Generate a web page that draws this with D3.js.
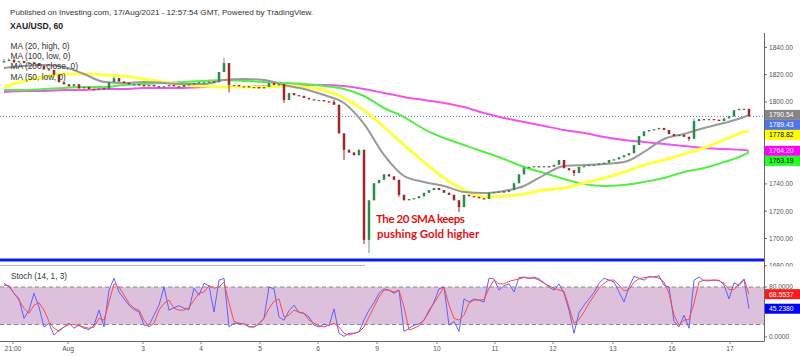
<!DOCTYPE html>
<html><head><meta charset="utf-8">
<script src="https://cdn.jsdelivr.net/npm/d3@7"></script>
<style>
body{margin:0;background:#fff;}
svg{display:block;font-family:"Liberation Sans",Arial,sans-serif;}
</style>
</head><body>
<svg id="c" width="800" height="356"></svg>
<script>
// ---------- DATA ----------
const firstOpen = 1829;
const closes = [
1830,1831,1829,1830,1828.5,1829,1828,1826.5,1824,1823.5,
1820,1814.5,1813,1811.5,1813,1810,1811,1809.5,1809,1810,
1809.5,1814.5,1817.5,1815,1814,1813,1813,1812.5,1811.5,1812.5,
1811.5,1811,1811.5,1812.5,1811.5,1811,1812.5,1813,1814,1814.5,
1814.5,1815,1814.5,1822,1828.5,1812.5,1812.5,1811.5,1811.5,1811,
1811,1810,1811,1814,1812.5,1813,1801.5,1806.5,1805,1804.5,
1803,1802,1801.5,1801.5,1800.5,1800,1798,1777,1765,1763,
1761,1765,1699,1728,1740.5,1743,1747,1745.5,1743,1732,
1728,1729,1729.5,1731,1733.5,1735.5,1737,1735.5,1733.5,1732,
1728,1723,1732,1731,1730.5,1729.5,1729,1733.5,1734,1734.5,
1734,1735.5,1740.5,1747,1751.5,1752.5,1753,1752.5,1753,1752.5,
1754,1757.5,1751.5,1750,1748,1752.5,1753,1754,1754,1755,
1755.5,1757.5,1758,1759.5,1761,1762.5,1768.5,1775,1778.5,1779.5,
1780,1781,1779.5,1776.5,1775,1776,1774.5,1773,1786,1787.5,
1787,1787.5,1787,1786,1788,1789.5,1794,1795,1795,1789.43
];
const wickHighs = [[44,1832.3],[66,1801.5],[22,1818.5],[104,1753.5],[138,1788],[0,1831.5],[1,1832]];
const wickLows  = [[45,1807],[56,1799.3],[68,1757.5],[73,1689.4],[72,1696],[91,1719.4],[114,1745.8],[137,1771.5],[79,1730.5]];

const ma20 = [1824.9,1826.4,1827.1,1825.6,1820.5,1814.7,1813.9,1814.7,1813.9,1813.2,1813.2,1816.1,1816.8,1816.1,1812.5,1809.5,1805.1,1799.3,1783.9,1761.2,1745.8,1741.4,1738.5,1734.1,1733.3,1734.8,1738.5,1746.5,1753.1,1753.8,1754.6,1756.0,1763.4,1772.9,1776.6,1781.0,1784.6,1789.0,1790.54];
const ma50 = [1811.0,1815.4,1818.3,1820.5,1820.5,1819.8,1819.0,1816.8,1814.7,1812.5,1811.7,1811.0,1811.0,1811.0,1811.7,1811.0,1808.8,1802.9,1794.1,1781.7,1768.5,1756.0,1744.3,1735.5,1730.4,1731.1,1732.6,1735.5,1737.0,1740.7,1744.3,1748.7,1753.8,1757.5,1761.9,1766.3,1772.2,1778.0,1778.82];
const ma100 = [1808.8,1808.8,1809.5,1810.3,1811.0,1811.0,1812.5,1813.2,1813.9,1814.7,1815.4,1816.1,1815.4,1814.7,1813.9,1813.2,1811.7,1809.5,1804.4,1795.6,1789.0,1780.2,1773.6,1768.5,1763.4,1758.2,1752.4,1748.0,1743.6,1739.9,1738.5,1739.2,1741.4,1744.3,1748.7,1751.6,1756.0,1761.2,1763.19];
const ma200 = [1807.3,1808.1,1808.1,1808.8,1808.8,1809.5,1809.5,1810.3,1810.3,1810.3,1811.0,1811.0,1811.0,1811.7,1811.7,1812.5,1812.5,1811.7,1809.5,1806.6,1803.7,1801.5,1799.3,1796.3,1791.9,1788.3,1785.3,1782.4,1779.5,1777.3,1774.4,1772.2,1770.7,1769.2,1767.8,1766.3,1765.6,1764.8,1764.20];
const lastPrice = 1789.43;
const hLineLevel = 1684.3;

const stochK = [
83,82,70,61,30,43,70,48,16,22,
3,11,16,22,14,19,14,12,19,43,
16,75,94,72,61,51,44,40,19,19,
35,51,80,43,47,50,46,44,78,67,
86,82,40,91,94,16,22,22,21,16,
16,21,30,80,77,32,27,42,51,39,
38,32,19,16,21,18,45,6,1,6,
6,8,27,43,55,70,77,75,70,75,
9,14,19,21,27,40,56,77,80,19,
25,9,61,56,61,59,56,94,93,75,
82,85,72,95,96,94,96,93,87,80,
75,85,70,43,6,39,51,61,71,86,
94,91,88,72,56,80,97,94,91,97,
96,98,83,80,25,16,35,14,91,96,
90,90,91,91,83,61,87,82,92,45.238
];
const stochD = [
86,80.5,70,59,46,38,51,55,43,25,
14,9,16,20,20,18,16,14,16,30,
27,56,85,80,67,54,46,43,27,16,
22,43,54,59,46,43,43,47,59,70,
72,82,78,80,88,54,25,22,21,17,
16,21,30,46,57,61,32,35,43,40,
38,27,22,18,16,19,22,16,6,3,
6,8,16,32,48,64,75,75,72,75,
48,11,14,18,27,43,54,67,80,51,
30,27,35,54,59,59,60,78,91,85,
85,89,91,93,95,94,94,91,86,82,
78,75,73,48,22,28,40,54,66,78,
86,91,91,83,74,76,88,93,95,96,
96,94,88,70,35,19,27,28,54,88,
91,91,91,90,86,76,76,85,93,68.5537
];

const priceTicks = [1680,1700,1720,1740,1760,1780,1800,1820,1840];
const stochTicks = [0,80];
const timeTickPos = [1.8,12.8,27.8,39.4,51.2,62.8,74.6,86.6,98.2,109.8,121.8,133.6,145.2];
const timeTickLabels = ["21:00","Aug","3","4","5","6","9","10","11","12","13","16","17"];

const legendLabels = ["MA (20, high, 0)","MA (100, low, 0)","MA (200, close, 0)","MA (50, low, 0)"];

// ---------- DRAW ----------
const svg = d3.select("#c");
const plotR = 764;
const x = d3.scaleLinear().domain([0, closes.length-1]).range([4, 749]);
const y = d3.scaleLinear().domain([1680,1840]).range([265.8,47.4]);
const ys = d3.scaleLinear().domain([0,100]).range([337,274.5]);
const maIndex = d3.range(0, closes.length-1, 4).concat([closes.length-1]);

const defs = svg.append("defs");
defs.append("clipPath").attr("id","cm").append("rect").attr("x",0).attr("y",30).attr("width",plotR).attr("height",236);
defs.append("clipPath").attr("id","cs").append("rect").attr("x",0).attr("y",267).attr("width",plotR).attr("height",74);
defs.append("clipPath").attr("id","ca").append("rect").attr("x",plotR).attr("y",30).attr("width",40).attr("height",236.5);

// header
svg.append("text").attr("x",10).attr("y",14.5).attr("font-size",8.1).attr("fill","#333")
  .text("Published on Investing.com, 17/Aug/2021 - 12:57:54 GMT, Powered by TradingView.");
svg.append("text").attr("x",10).attr("y",28.5).attr("font-size",8.6).attr("font-weight","bold").attr("fill","#222")
  .text("XAU/USD, 60");

const gm = svg.append("g").attr("clip-path","url(#cm)");

// blue dotted last-price line
gm.append("line").attr("x1",0).attr("x2",plotR).attr("y1",y(lastPrice)).attr("y2",y(lastPrice))
  .attr("stroke","#5b7fe6").attr("stroke-width",1).attr("stroke-dasharray","1,2");

// MAs
const maLine = d3.line().x((d,i)=>x(maIndex[i])).y(d=>y(d)).curve(d3.curveMonotoneX);
const mas = [
  {data:ma200, color:"#ee55ee", w:2},
  {data:ma100, color:"#55ee44", w:2},
  {data:ma50,  color:"#ffff44", w:3},
  {data:ma20,  color:"#999999", w:2}
];
mas.forEach(m=>{
  gm.append("path").datum(m.data).attr("d",maLine).attr("fill","none")
    .attr("stroke",m.color).attr("stroke-width",m.w).attr("stroke-linejoin","round");
});

// candles
const wh = new Map(wickHighs), wl = new Map(wickLows);
const candles = closes.map((c,i)=>{
  const o = i===0 ? firstOpen : closes[i-1];
  const hi = wh.has(i) ? wh.get(i) : Math.max(o,c);
  const lo = wl.has(i) ? wl.get(i) : Math.min(o,c);
  return {i,o,c,hi,lo};
});
const up = "#2f8a4a", dn = "#a32626";
const cg = gm.append("g");
cg.selectAll("line.w").data(candles).join("line")
  .attr("x1",d=>x(d.i)).attr("x2",d=>x(d.i))
  .attr("y1",d=>y(d.hi)).attr("y2",d=>y(d.lo))
  .attr("stroke",d=>d.c>=d.o?"#6a9a7a":dn).attr("stroke-width",1);
cg.selectAll("rect").data(candles).join("rect")
  .attr("x",d=>x(d.i)-1.25).attr("width",2.5)
  .attr("y",d=>y(Math.max(d.o,d.c)))
  .attr("height",d=>Math.max(1.2, Math.abs(y(d.o)-y(d.c))))
  .attr("fill",d=>d.c>=d.o?up:dn);

// horizontal blue level line
svg.append("line").attr("x1",0).attr("x2",plotR).attr("y1",y(hLineLevel)).attr("y2",y(hLineLevel))
  .attr("stroke","#0a1ee6").attr("stroke-width",3);
svg.append("line").attr("x1",0).attr("x2",365).attr("y1",265.5).attr("y2",265.5)
  .attr("stroke","#bbbbbb").attr("stroke-width",1);

// legend
legendLabels.forEach((t,k)=>{
  svg.append("text").attr("x",10.5).attr("y",48.5+k*10.4).attr("font-size",8.4).attr("fill","#333").text(t);
});

// annotation
const ann = svg.append("g").attr("font-family","Lato, 'Liberation Sans', sans-serif").attr("font-weight","bold")
  .attr("font-size",11.5).attr("fill","#e81010");
ann.append("text").attr("x",376).attr("y",223).attr("letter-spacing",-0.45).text("The 20 SMA keeps");
ann.append("text").attr("x",377).attr("y",238).text("pushing Gold higher");

// value labels (price axis)
function resolve(items, h){
  items.sort((a,b)=>a.y-b.y);
  for(let k=1;k<items.length;k++){ if(items[k].y < items[k-1].y + h) items[k].y = items[k-1].y + h; }
  return items;
}
const priceLabels = resolve([
  {v:ma20[ma20.length-1], bg:"#858585", fg:"#fff"},
  {v:lastPrice, bg:"#4f76e6", fg:"#fff"},
  {v:ma50[ma50.length-1], bg:"#ffff00", fg:"#000"},
  {v:ma200[ma200.length-1], bg:"#ff00ff", fg:"#fff"},
  {v:ma100[ma100.length-1], bg:"#22ff22", fg:"#000"}
].map(d=>({...d, y:y(d.v), dec:2})), 10);
const stochLabels = resolve([
  {v:stochD[stochD.length-1], bg:"#ff1a1a", fg:"#fff", dec:4},
  {v:stochK[stochK.length-1], bg:"#0000ff", fg:"#fff", dec:4}
].map(d=>({...d, y:ys(d.v)})), 10);

// right price axis (tick labels hidden where a value box covers them)
const ax = svg.append("g").attr("clip-path","url(#ca)");
priceTicks.forEach(v=>{
  const ty = y(v);
  ax.append("line").attr("x1",plotR).attr("x2",plotR+3).attr("y1",ty).attr("y2",ty).attr("stroke","#666");
  if (priceLabels.some(l=>Math.abs(l.y-ty) < 10)) return;
  ax.append("text").attr("x",plotR+5).attr("y",ty+2.4).attr("font-size",6.6).attr("fill","#555").text(v.toFixed(2));
});

// stoch pane
const gs = svg.append("g").attr("clip-path","url(#cs)");
gs.append("rect").attr("x",0).attr("width",plotR).attr("y",ys(80)).attr("height",ys(20)-ys(80)).attr("fill","#dcc0dc");
[80,20].forEach(v=>{
  gs.append("line").attr("x1",0).attr("x2",plotR).attr("y1",ys(v)).attr("y2",ys(v))
    .attr("stroke","#8a8a8a").attr("stroke-width",1).attr("stroke-dasharray","4,3");
});
const sLine = d3.line().x((d,i)=>x(i)).y(d=>ys(d));
gs.append("path").datum(stochK).attr("d",sLine).attr("fill","none").attr("stroke","#6060ff").attr("stroke-width",1);
gs.append("path").datum(stochD).attr("d",sLine).attr("fill","none").attr("stroke","#ff4a4a").attr("stroke-width",1);
svg.append("text").attr("x",11).attr("y",278.5).attr("font-size",8.2).attr("fill","#333").text("Stoch (14, 1, 3)");

stochTicks.forEach(v=>{
  svg.append("line").attr("x1",plotR).attr("x2",plotR+3).attr("y1",ys(v)).attr("y2",ys(v)).attr("stroke","#666");
  svg.append("text").attr("x",plotR+5).attr("y",ys(v)+2.4).attr("font-size",6.6).attr("fill","#555").text(v.toFixed(4));
});

// axes lines
svg.append("line").attr("x1",plotR+0.5).attr("x2",plotR+0.5).attr("y1",33).attr("y2",341).attr("stroke","#666");
svg.append("line").attr("x1",0).attr("x2",plotR+0.5).attr("y1",341.5).attr("y2",341.5).attr("stroke","#666");
timeTickPos.forEach((p,k)=>{
  svg.append("line").attr("x1",x(p)).attr("x2",x(p)).attr("y1",341.5).attr("y2",344).attr("stroke","#888");
  svg.append("text").attr("x",x(p)).attr("y",350.5).attr("text-anchor","middle").attr("font-size",6.6).attr("fill","#555").text(timeTickLabels[k]);
});

priceLabels.concat(stochLabels).forEach(d=>{
  svg.append("rect").attr("x",plotR+1).attr("y",d.y-5).attr("width",36).attr("height",10).attr("fill",d.bg);
  svg.append("text").attr("x",plotR+5).attr("y",d.y+2.4).attr("font-size",6.8).attr("fill",d.fg).text(d.v.toFixed(d.dec));
});
</script>
</body></html>
